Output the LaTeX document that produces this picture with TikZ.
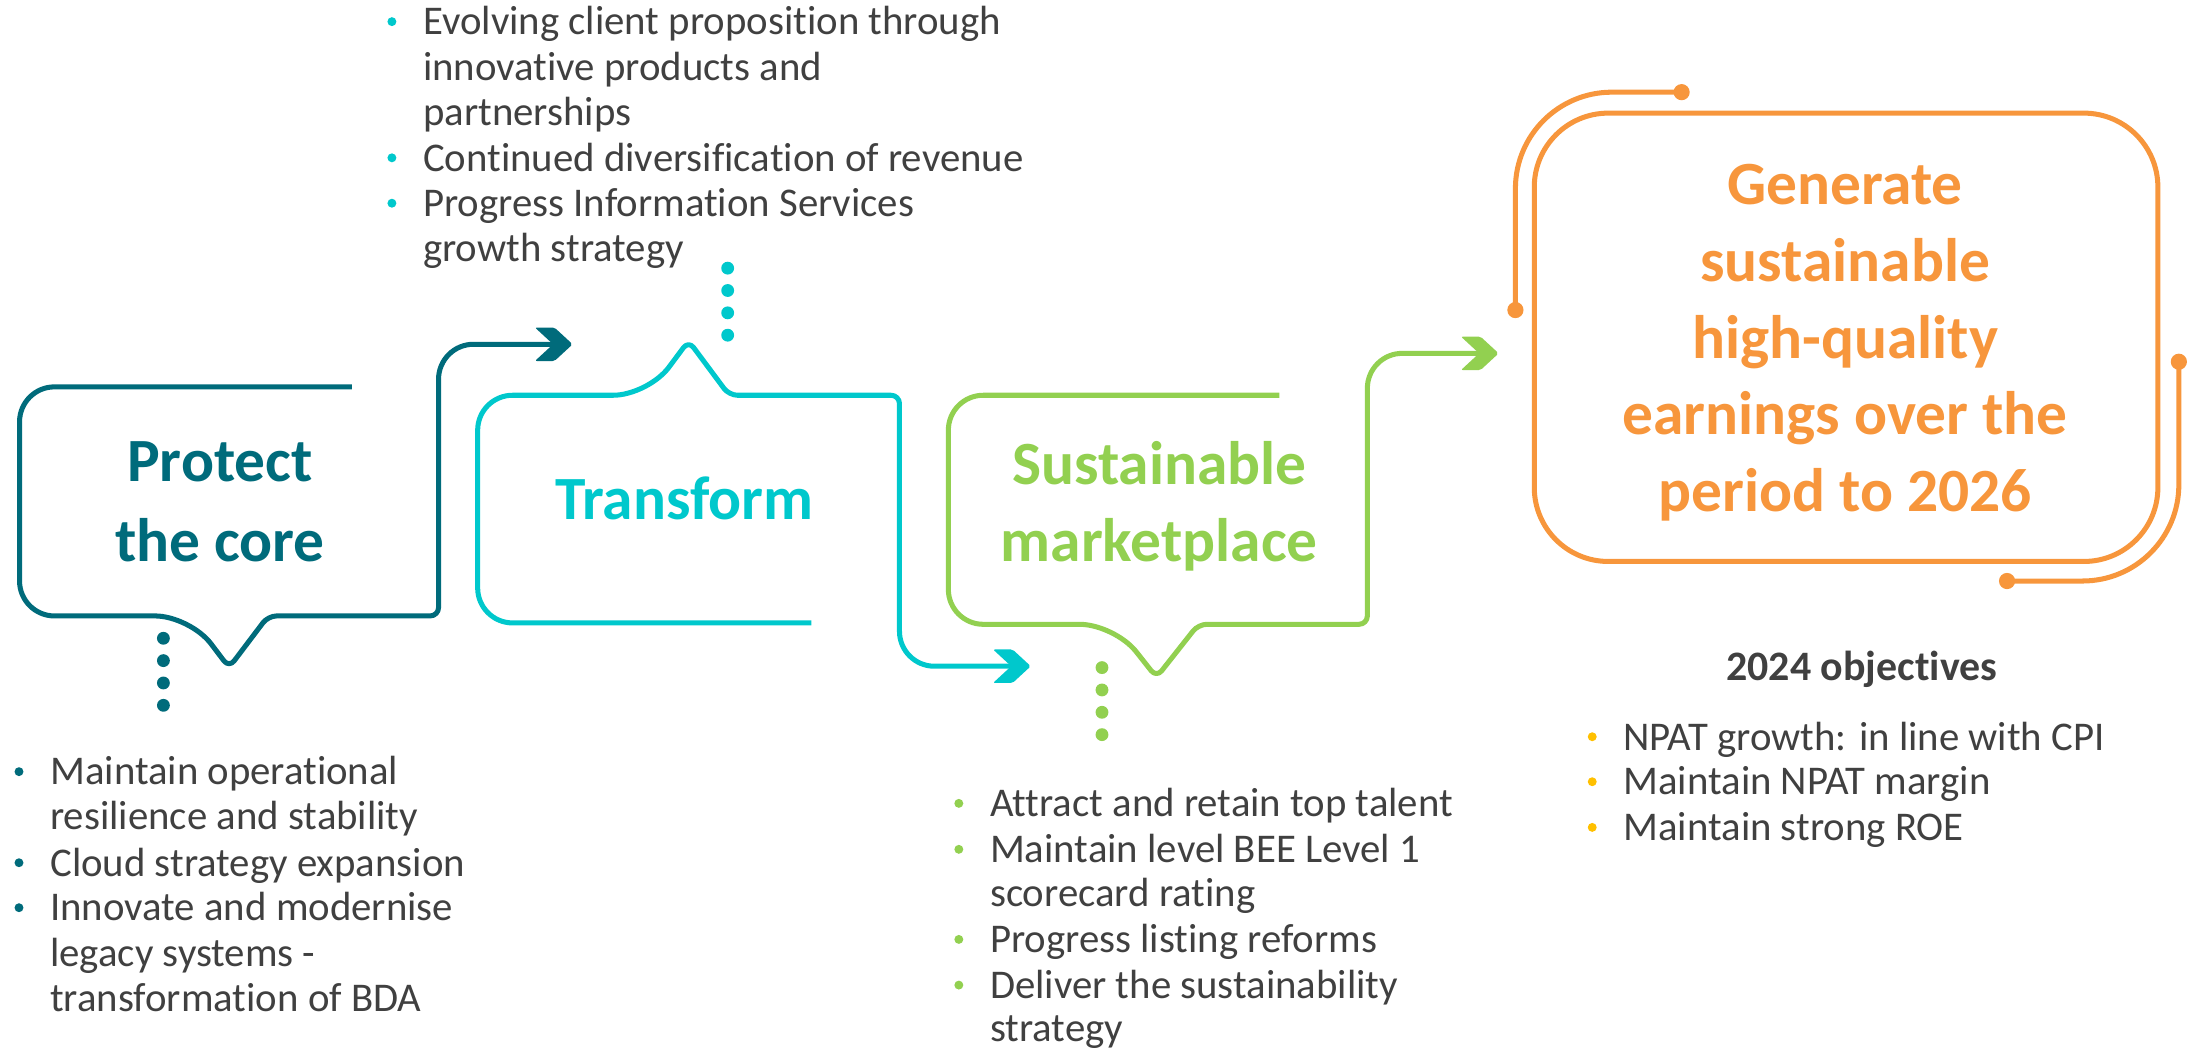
\documentclass[tikz,border=0pt]{standalone}
\usepackage{fontspec}
\setmainfont{Carlito}[Ligatures=NoCommon]
\usetikzlibrary{calc}

\definecolor{coreteal}{HTML}{006B7B}
\definecolor{transcyan}{HTML}{00C8CC}
\definecolor{marketgreen}{HTML}{92D050}
\definecolor{goalorange}{HTML}{F7963C}
\definecolor{objgold}{HTML}{FFC000}
\definecolor{bodygray}{HTML}{404040}

\tikzset{
  outline/.style={line width=1.8pt, line join=round},
  headline/.style={font=\fontsize{22}{27}\selectfont\bfseries, anchor=base, inner sep=0pt},
  body/.style={font=\fontsize{14.6}{16.2}\selectfont, text=bodygray, anchor=base west, inner sep=0pt},
  stepdot/.style={circle, fill=#1, inner sep=0pt, minimum size=4.6pt},
  enddot/.style={circle, fill=goalorange, inner sep=0pt, minimum size=5.8pt},
  pics/chevron/.style={code={%
    \fill[#1, rounded corners=0.7pt] (-27,-12) -- (-13,-12) -- (0,0) -- (-13,12)
      -- (-27,12) -- (-14,0) -- cycle;}},
}

% one bulleted line of text with its coloured bullet
\newcommand\bulletitem[5]{%
  \node[body] (#1) at (#3,#4) {#5};
  \fill[#2] ($(#1.base west)+(-22,-9.5)$) circle (1.6pt);}

\begin{document}
\begin{tikzpicture}[x=0.5pt, y=-0.5pt]
\useasboundingbox (0,0) rectangle (1568,752.5);

% ---------- Protect the core ----------
\draw[outline, coreteal] (252,277) [rounded corners=12.5pt] -- (14,277) -- (14,441)
  -- (136,441) [rounded corners=3pt] -- (164,478) -- (192,441)
  -- (314,441) [rounded corners=12.5pt] -- (314,246.5) -- (397,246.5);
\pic at (410,246.5) {chevron=coreteal};
\node[headline, text=coreteal] (core1) at (157.5,345) {Protect};
\node[headline, text=coreteal] (core2) at (157.5,402) {the core};
\foreach \k in {0,...,3} \node[stepdot=coreteal] (coredot\k) at (117,457+16*\k) {};

% ---------- Transform ----------
\draw[outline, transcyan] (581,446) [rounded corners=12.5pt] -- (342,446) -- (342,283)
  -- (464,283) [rounded corners=3pt] -- (493,244) -- (522,283)
  -- (644,283) [rounded corners=12.5pt] -- (644,477) -- (725,477);
\pic at (738,477) {chevron=transcyan};
\node[headline, text=transcyan] (trans1) at (490,372) {Transform};
\foreach \k in {0,...,3} \node[stepdot=transcyan] (transdot\k) at (521,192+16*\k) {};

% ---------- Sustainable marketplace ----------
\draw[outline, marketgreen] (916,283) [rounded corners=12.5pt] -- (679,283) -- (679,447)
  -- (798,447) [rounded corners=3pt] -- (828,485) -- (858,447)
  -- (979,447) [rounded corners=12.5pt] -- (979,253) -- (1060,253);
\pic at (1073,253) {chevron=marketgreen};
\node[headline, text=marketgreen] (market1) at (830,347) {Sustainable};
\node[headline, text=marketgreen] (market2) at (830,402) {marketplace};
\foreach \k in {0,...,3} \node[stepdot=marketgreen] (marketdot\k) at (789,478+16*\k) {};

% ---------- Goal ----------
\draw[outline, goalorange, rounded corners=26.5pt] (1098.5,81) rectangle (1545,402);
\node[enddot] (gdotA) at (1085,222) {};
\node[enddot] (gdotB) at (1204,66) {};
\node[enddot] (gdotC) at (1560,259) {};
\node[enddot] (gdotD) at (1437,416) {};
\draw[outline, goalorange, rounded corners=34.5pt]
  (gdotA.center) -- (gdotA.center |- gdotB.center) -- (gdotB.center);
\draw[outline, goalorange, rounded corners=34.5pt]
  (gdotC.center) -- (gdotC.center |- gdotD.center) -- (gdotD.center);
\node[headline, text=goalorange] (goal1) at (1321,146.5) {Generate};
\node[headline, text=goalorange] (goal2) at (1321,201.5) {sustainable};
\node[headline, text=goalorange] (goal3) at (1321,256.5) {high-quality};
\node[headline, text=goalorange] (goal4) at (1321,311.4) {earnings over the};
\node[headline, text=goalorange] (goal5) at (1321,366.4) {period to 2026};

% ---------- Transform initiatives ----------
\bulletitem{tr1}{transcyan}{302.6}{25}{Evolving client proposition through}
\node[body] (tr2) at (302.6,57.5) {innovative products and};
\node[body] (tr3) at (302.6,90) {partnerships};
\bulletitem{tr4}{transcyan}{302.6}{122.5}{Continued diversification of revenue}
\bulletitem{tr5}{transcyan}{302.6}{155}{Progress Information Services}
\node[body] (tr6) at (302.6,187.5) {growth strategy};

% ---------- Core initiatives ----------
\bulletitem{co1}{coreteal}{35.6}{562}{Maintain operational}
\node[body] (co2) at (35.6,594.2) {resilience and stability};
\bulletitem{co3}{coreteal}{35.6}{627.2}{Cloud strategy expansion}
\bulletitem{co4}{coreteal}{35.6}{659.4}{Innovate and modernise}
\node[body] (co5) at (35.6,691.7) {legacy systems -};
\node[body] (co6) at (35.6,723.9) {transformation of BDA};

% ---------- Marketplace initiatives ----------
\bulletitem{mk1}{marketgreen}{708.5}{584.7}{Attract and retain top talent}
\bulletitem{mk2}{marketgreen}{708.5}{617.6}{Maintain level BEE Level 1}
\node[body] (mk3) at (708.5,649.2) {scorecard rating};
\bulletitem{mk4}{marketgreen}{708.5}{682.1}{Progress listing reforms}
\bulletitem{mk5}{marketgreen}{708.5}{714.8}{Deliver the sustainability}
\node[body] (mk6) at (708.5,745.8) {strategy};

% ---------- 2024 objectives ----------
\node[font=\fontsize{15}{18}\selectfont\bfseries, text=bodygray, anchor=base, inner sep=0pt]
  (objtitle) at (1333,487) {2024 objectives};
\bulletitem{ob1}{objgold}{1162}{537}{NPAT growth: in line with CPI}
\bulletitem{ob2}{objgold}{1162}{569.2}{Maintain NPAT margin}
\bulletitem{ob3}{objgold}{1162}{601.9}{Maintain strong ROE}
\end{tikzpicture}
\end{document}
